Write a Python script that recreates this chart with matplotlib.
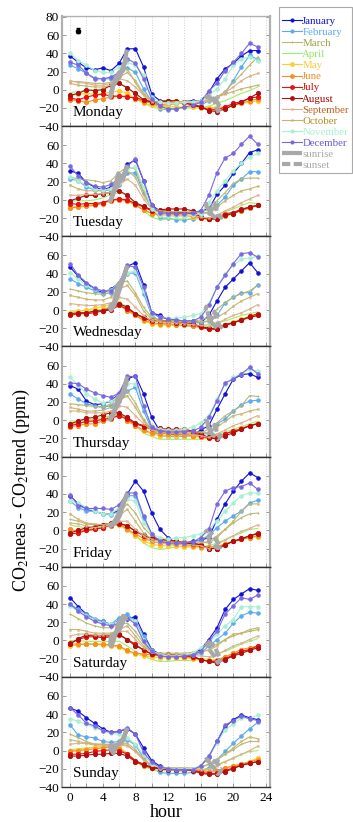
import numpy as np
import matplotlib
matplotlib.use('Agg')
import matplotlib.pyplot as plt

plt.rcParams['font.family'] = ['Liberation Serif', 'DejaVu Serif']
plt.rcParams['mathtext.fontset'] = 'stix'

hours = np.arange(24)
day_names = ['Monday', 'Tuesday', 'Wednesday', 'Thursday', 'Friday', 'Saturday', 'Sunday']
month_names = ['January', 'February', 'March', 'April', 'May', 'June', 'July',
               'August', 'September', 'October', 'November', 'December']
line_colors = ['#1010d8', '#5aaaf0', '#b8b870', '#9cf06a', '#ffcc33', '#f59020', '#e81010',
               '#b01010', '#dbb08a', '#c8b46a', '#a8f0d0', '#7a68e0']
text_colors = ['#1010d8', '#5aaaf0', '#a0a040', '#90e860', '#ffc830', '#f08a20', '#e00000',
               '#a00000', '#c06020', '#b09020', '#a8f0d0', '#6a5ad0']
markers = ['o', 'o', '+', '', 'o', 'o', 'o', 'o', 'x', 'x', 'o', 'o']
msizes = [2.5, 2.5, 1.5, 0, 3, 3, 3, 3, 1.5, 1.5, 2.5, 2.5]

# approximate sunrise / sunset hour for each month
sunrise_hour = [6.95, 6.5, 5.9, 5.3, 5.0, 4.9, 5.0, 5.3, 5.7, 6.1, 6.6, 7.0]
sunset_hour = [16.8, 17.3, 17.7, 18.1, 18.4, 18.5, 18.4, 18.1, 17.6, 17.1, 16.7, 16.6]

# rows: Jan..Dec, columns: hour 0..23
monday = [
    [37, 30, 24, 22, 24, 21, 29, 45, 45, 25, -5, -12, -13, -14, -13, -12, -12, -3, 12, 23, 29, 37, 43, 43],
    [27, 23, 18, 13, 12, 12, 18, 24, 19, 1, -13, -21, -22, -21, -19, -19, -17, -12, -8, -3, 10, 25, 38, 33],
    [9, 9, 8, 7, 7, 8, 19, 23, 8, -6, -14, -17, -17, -15, -14, -14, -13, -12, -8, -2, 8, 17, 27, 36],
    [-3, -2, -1, 0, 1, 4, 7, 3, -6, -14, -19, -21, -21, -20, -20, -20, -20, -18, -15, -12, -8, -4, -1, 3],
    [-6, -5, -4, -5, -4, -3, -1, -4, -10, -15, -17, -19, -18, -19, -19, -19, -20, -20, -19, -19, -17, -15, -14, -12],
    [-11, -12, -14, -11, -10, -8, -7, -7, -10, -13, -15, -17, -15, -15, -15, -17, -19, -21, -21, -20, -17, -15, -12, -10],
    [-9, -11, -8, -6, -5, -7, -7, -8, -9, -11, -13, -13, -12, -12, -14, -15, -19, -22, -22, -19, -15, -13, -9, -8],
    [-6, -4, 0, -1, 0, 5, 7, 2, -4, -11, -14, -14, -12, -13, -14, -17, -19, -23, -24, -21, -17, -14, -9, -4],
    [10, 8, 7, 5, 5, 7, 12, 10, 3, -6, -13, -14, -14, -14, -14, -14, -14, -12, -8, -3, 3, 10, 15, 18],
    [7, 5, 4, 3, 3, 5, 14, 19, 10, -4, -12, -14, -14, -13, -13, -13, -12, -11, -8, -5, -2, 1, 3, 5],
    [40, 32, 27, 21, 19, 19, 25, 30, 27, 16, -8, -14, -15, -15, -14, -13, -12, -6, 1, 12, 27, 34, 36, 32],
    [30, 27, 18, 12, 12, 14, 19, 34, 29, 12, -10, -18, -21, -21, -19, -17, -14, -1, 7, 21, 30, 40, 51, 47],
]
tuesday = [
    [32, 29, 19, 14, 11, 14, 19, 39, 44, 21, -6, -12, -14, -15, -15, -15, -12, -10, 6, 16, 29, 40, 52, 55],
    [23, 21, 14, 11, 10, 11, 16, 29, 30, 8, -10, -20, -20, -22, -22, -21, -15, -14, -6, 3, 16, 23, 31, 31],
    [25, 23, 22, 21, 19, 21, 30, 36, 34, 10, -8, -14, -15, -15, -15, -15, -14, -10, -1, 8, 18, 23, 24, 24],
    [-1, -1, -1, 0, 2, 6, 8, 5, -4, -12, -19, -22, -21, -21, -21, -21, -21, -20, -17, -13, -10, -6, -3, -4],
    [-8, -7, -6, -5, -3, 0, 1, 0, -5, -11, -15, -17, -17, -17, -18, -19, -20, -21, -20, -17, -14, -11, -8, -6],
    [-9, -8, -7, -6, -4, -1, 0, -1, -6, -11, -15, -16, -15, -16, -17, -18, -20, -21, -21, -18, -15, -12, -9, -6],
    [-4, -5, -4, -4, -3, 0, 1, 0, -4, -8, -12, -12, -12, -14, -14, -15, -20, -21, -20, -15, -14, -10, -8, -6],
    [-1, 2, 5, 5, 7, 8, 10, 5, -3, -7, -11, -11, -10, -10, -10, -12, -19, -21, -21, -17, -15, -11, -8, -6],
    [5, 5, 6, 6, 7, 8, 16, 23, 16, 1, -10, -14, -15, -15, -16, -17, -19, -20, -17, -12, -8, -3, 1, 5],
    [16, 12, 10, 10, 10, 13, 21, 32, 25, 5, -8, -12, -13, -13, -13, -13, -14, -14, -8, -1, 5, 10, 12, 15],
    [25, 21, 16, 12, 11, 12, 19, 34, 36, 14, -10, -17, -18, -18, -18, -17, -15, -3, 10, 21, 32, 40, 47, 51],
    [37, 26, 19, 15, 14, 17, 23, 37, 45, 21, -6, -14, -15, -15, -15, -14, -12, 5, 30, 46, 51, 61, 70, 61],
]
wednesday = [
    [47, 37, 29, 23, 19, 23, 30, 48, 52, 28, -3, -6, -10, -11, -12, -12, -14, -6, 10, 25, 34, 43, 52, 41],
    [34, 29, 25, 21, 18, 19, 29, 40, 41, 18, -6, -12, -13, -13, -14, -14, -14, -12, -6, 8, 14, 19, 19, 28],
    [23, 21, 19, 18, 17, 19, 29, 32, 19, 3, -8, -11, -12, -12, -12, -12, -11, -8, 1, 8, 14, 18, 21, 27],
    [-1, -1, 0, 0, 1, 4, 8, 4, -5, -12, -15, -16, -17, -17, -17, -17, -17, -16, -14, -12, -9, -6, -4, -2],
    [-3, -1, 0, 2, 4, 6, 8, 1, -6, -12, -15, -16, -16, -17, -17, -18, -19, -20, -19, -16, -13, -10, -7, -5],
    [-4, -4, -3, -2, 0, 3, 6, -1, -6, -11, -14, -15, -15, -16, -17, -18, -19, -21, -21, -17, -14, -11, -8, -6],
    [-6, -4, -4, -3, -1, 0, 5, 1, -4, -9, -12, -12, -12, -13, -14, -15, -19, -21, -21, -17, -14, -11, -7, -4],
    [-4, -3, -3, -1, -1, 2, 7, 3, -4, -8, -11, -12, -12, -14, -15, -15, -18, -20, -21, -16, -14, -11, -8, -6],
    [7, 6, 5, 5, 6, 8, 14, 12, 3, -6, -12, -13, -14, -14, -15, -16, -17, -18, -15, -10, -6, -3, 1, 6],
    [16, 14, 12, 11, 11, 14, 23, 27, 16, -1, -10, -12, -12, -13, -13, -13, -13, -12, -8, -3, 4, 10, 14, 18],
    [41, 34, 27, 23, 21, 22, 30, 41, 43, 21, -4, -8, -9, -9, -8, -6, -4, 7, 25, 40, 49, 56, 57, 59],
    [51, 38, 30, 24, 21, 21, 29, 49, 47, 25, -3, -8, -10, -11, -12, -12, -8, 5, 25, 38, 51, 62, 63, 58],
]
thursday = [
    [38, 34, 21, 17, 18, 21, 29, 45, 49, 29, 3, -12, -15, -16, -15, -16, -11, -6, 12, 29, 45, 50, 51, 47],
    [29, 23, 18, 16, 14, 16, 21, 32, 36, 10, -10, -17, -18, -18, -18, -17, -15, -15, -4, 1, 10, 17, 21, 22],
    [18, 17, 16, 15, 14, 18, 27, 32, 19, 1, -10, -14, -15, -15, -15, -14, -14, -10, -3, 5, 10, 16, 27, 26],
    [-1, -1, 0, 1, 3, 5, 7, 3, -6, -14, -18, -21, -21, -21, -21, -21, -21, -20, -16, -13, -10, -7, -4, -1],
    [-4, -3, -2, -1, 1, 4, 8, 1, -6, -12, -15, -17, -17, -17, -17, -18, -19, -20, -19, -15, -12, -9, -6, -3],
    [-7, -6, -4, -4, -1, 1, 7, -1, -6, -11, -14, -15, -15, -15, -16, -17, -18, -19, -19, -15, -12, -9, -6, -4],
    [-6, -4, -1, -1, 1, 2, 5, 1, -4, -7, -10, -11, -11, -12, -12, -13, -17, -20, -20, -15, -12, -10, -6, -4],
    [-4, -1, 2, 3, 6, 8, 8, 3, -3, -6, -8, -9, -10, -10, -10, -12, -15, -19, -21, -17, -14, -10, -6, -4],
    [10, 10, 8, 8, 8, 10, 16, 14, 5, -4, -11, -13, -14, -14, -15, -16, -17, -19, -15, -11, -6, -3, 1, 5],
    [14, 12, 10, 10, 11, 14, 21, 27, 14, -1, -10, -13, -13, -13, -13, -13, -13, -14, -8, -1, 5, 7, 10, 12],
    [47, 38, 29, 23, 19, 21, 27, 40, 40, 16, -6, -10, -11, -11, -10, -8, -3, 5, 23, 40, 47, 51, 56, 54],
    [41, 40, 34, 30, 27, 25, 30, 48, 48, 16, -8, -12, -13, -13, -13, -12, -8, 3, 21, 41, 45, 51, 58, 51],
]
friday = [
    [38, 29, 23, 21, 18, 18, 22, 40, 54, 43, 19, 1, -8, -14, -14, -12, -11, -8, 12, 29, 43, 54, 63, 58],
    [32, 25, 21, 21, 18, 17, 21, 38, 38, 14, -4, -14, -15, -15, -15, -14, -10, -6, 3, 10, 16, 21, 30, 33],
    [12, 10, 7, 6, 6, 8, 19, 29, 19, 3, -6, -12, -14, -15, -16, -15, -14, -12, -6, 1, 8, 14, 18, 19],
    [6, 4, 3, 2, 4, 6, 7, 2, -6, -14, -19, -21, -20, -18, -18, -18, -18, -17, -14, -10, -6, -3, 1, 2],
    [-1, 0, 1, 2, 3, 5, 6, 0, -6, -12, -15, -17, -17, -17, -18, -18, -19, -19, -18, -15, -12, -10, -8, -7],
    [1, -1, 0, 1, 3, 5, 7, 1, -4, -9, -12, -14, -14, -15, -16, -17, -18, -18, -18, -15, -12, -10, -8, -6],
    [-4, -3, 0, 1, 3, 6, 7, 5, -1, -6, -9, -10, -11, -12, -13, -14, -16, -20, -20, -16, -12, -10, -6, -3],
    [-3, 0, 3, 4, 6, 8, 8, 5, -1, -5, -9, -10, -11, -12, -14, -15, -16, -20, -20, -16, -12, -9, -6, -4],
    [8, 7, 5, 3, 4, 6, 10, 10, 1, -6, -12, -14, -15, -15, -16, -16, -17, -20, -15, -11, -6, -1, 2, 6],
    [18, 12, 8, 7, 6, 8, 16, 23, 10, -3, -10, -12, -13, -13, -13, -13, -13, -14, -8, 1, 10, 21, 29, 29],
    [32, 30, 25, 21, 18, 18, 25, 34, 32, 8, -4, -8, -10, -8, -8, -6, -4, 1, 10, 21, 30, 38, 41, 41],
    [39, 27, 24, 24, 24, 23, 28, 41, 41, 16, -4, -12, -14, -14, -14, -13, -8, 1, 29, 43, 47, 48, 52, 45],
]
saturday = [
    [47, 37, 29, 23, 21, 17, 22, 24, 26, 7, -10, -15, -16, -17, -16, -15, -10, 1, 14, 34, 45, 51, 57, 55],
    [40, 34, 29, 24, 21, 18, 25, 29, 21, 5, -11, -17, -18, -18, -18, -17, -14, -6, 1, 8, 19, 27, 31, 30],
    [29, 24, 19, 16, 14, 14, 18, 19, 10, -3, -12, -15, -16, -16, -16, -15, -13, -10, -4, 1, 5, 8, 10, 12],
    [0, 0, -1, -1, -1, -1, -1, -6, -12, -17, -21, -23, -23, -22, -22, -22, -21, -20, -15, -12, -8, -4, -1, 2],
    [-6, -5, -4, -4, -5, -6, -7, -12, -15, -17, -18, -19, -19, -19, -19, -20, -21, -22, -21, -18, -15, -12, -10, -8],
    [-4, -4, -4, -4, -4, -5, -6, -11, -14, -15, -16, -17, -17, -17, -18, -19, -21, -23, -22, -18, -14, -10, -8, -6],
    [-3, 1, 4, 4, 3, 4, 6, 1, -4, -11, -15, -16, -16, -17, -17, -18, -21, -23, -23, -20, -16, -12, -10, -6],
    [-4, 2, 6, 5, 5, 5, 7, 1, -6, -10, -15, -16, -15, -16, -16, -17, -21, -23, -25, -21, -17, -14, -11, -8],
    [5, 7, 7, 6, 6, 7, 10, 10, 1, -8, -13, -15, -16, -16, -16, -17, -17, -18, -15, -11, -6, -3, 1, 5],
    [12, 12, 10, 8, 8, 8, 12, 16, 5, -6, -12, -14, -14, -14, -14, -13, -12, -11, -6, 1, 7, 8, 12, 14],
    [38, 32, 27, 23, 19, 18, 21, 25, 21, 1, -12, -16, -17, -17, -16, -14, -8, -3, 7, 16, 23, 37, 37, 37],
    [40, 32, 26, 21, 18, 16, 19, 25, 18, -1, -12, -17, -18, -18, -17, -16, -12, -1, 10, 29, 38, 47, 45, 50],
]
sunday = [
    [47, 43, 36, 30, 24, 20, 21, 24, 18, 3, -11, -17, -20, -22, -22, -21, -17, -7, 10, 26, 34, 39, 36, 34],
    [28, 17, 15, 14, 10, 9, 10, 12, 6, -8, -19, -24, -25, -25, -25, -24, -22, -19, -10, -1, 8, 16, 24, 31],
    [18, 14, 10, 7, 7, 6, 7, 6, -1, -10, -17, -19, -20, -20, -20, -20, -19, -15, -10, -4, 1, 7, 10, 10],
    [1, 2, 3, 4, 4, 5, 4, -3, -11, -17, -21, -22, -22, -22, -22, -22, -21, -20, -15, -12, -9, -4, -1, 0],
    [-1, 1, 2, 4, 5, 6, 4, -4, -12, -17, -19, -20, -20, -20, -21, -21, -22, -23, -22, -19, -17, -15, -12, -8],
    [-1, 0, 1, 2, 3, 4, 2, -4, -11, -17, -19, -20, -20, -21, -21, -22, -22, -23, -22, -19, -17, -15, -12, -10],
    [-4, -4, -3, -1, 0, 1, 0, -4, -11, -15, -18, -19, -20, -20, -20, -21, -24, -25, -25, -22, -19, -16, -14, -12],
    [-6, -6, -5, -4, -4, -3, -3, -6, -12, -16, -19, -20, -21, -21, -21, -22, -25, -26, -26, -23, -20, -16, -14, -12],
    [7, 8, 8, 6, 6, 5, 6, 5, -1, -10, -16, -18, -19, -19, -19, -20, -21, -21, -17, -12, -8, -4, 0, 5],
    [12, 10, 8, 7, 7, 7, 8, 8, 1, -9, -16, -18, -19, -19, -19, -19, -18, -15, -10, -4, 3, 10, 15, 13],
    [35, 32, 29, 25, 22, 19, 18, 14, 7, -5, -15, -19, -20, -20, -20, -20, -17, -6, 8, 23, 29, 36, 35, 39],
    [47, 39, 30, 27, 22, 20, 21, 25, 18, -2, -13, -18, -20, -21, -21, -21, -17, -6, 10, 28, 33, 38, 35, 33],
]
week = [monday, tuesday, wednesday, thursday, friday, saturday, sunday]

W, H = 353, 822
fig = plt.figure(figsize=(W / 100, H / 100), dpi=100)
left, right = 62 / W, 270 / W
top, bottom = 1 - 16 / H, 1 - 787 / H
ph = (top - bottom) / 7

sun_gray = '#a8a8a8'
handles = []
for i, (name, data) in enumerate(zip(day_names, week)):
    ax = fig.add_axes([left, top - (i + 1) * ph, right - left, ph])
    for m in range(12):
        ln, = ax.plot(hours, data[m], color=line_colors[m], lw=0.8,
                      marker=markers[m] if markers[m] else None,
                      ms=msizes[m], mew=0.7, zorder=2 + m * 0.01)
        if i == 0:
            handles.append(ln)
    # sunrise / sunset positions on each month's curve
    sr_y = [np.interp(sunrise_hour[m], hours, data[m]) for m in range(12)]
    ss_y = [np.interp(sunset_hour[m], hours, data[m]) for m in range(12)]
    l_sr, = ax.plot(sunrise_hour, sr_y, color=sun_gray, lw=3, solid_capstyle='butt', zorder=5)
    l_ss, = ax.plot(sunset_hour, ss_y, color=sun_gray, lw=3, ls=(0, (2, 0.8)), zorder=5)
    if i == 0:
        handles += [l_sr, l_ss]
        ax.errorbar(1, 65, yerr=3, fmt='o', color='k', ms=3, capsize=1.5, lw=0.8)

    ax.text(0.3, -29, name, fontsize=11, va='baseline')
    ax.set_xlim(-1, 24.5)
    ax.set_ylim(-40, 81)
    ax.set_xticks(np.arange(0, 25, 2))
    if i == 6:
        ax.set_xticklabels([str(v) if v % 4 == 0 else '' for v in range(0, 25, 2)], fontsize=9.5)
        ax.set_xlabel('hour', fontsize=13, labelpad=0)
    else:
        ax.set_xticklabels([])
    if i == 0:
        ax.set_yticks(np.arange(-40, 81, 20))
    else:
        ax.set_yticks(np.arange(-40, 61, 20))
    ax.tick_params(axis='y', labelsize=9.5, pad=2)
    ax.tick_params(direction='in', length=3, width=0.6, color='#888888', top=False, right=True)
    ax.grid(axis='x', ls=':', color='#d0d0d0', lw=0.7)
    for s in ['left', 'right']:
        ax.spines[s].set_color('#b0b0b0')
        ax.spines[s].set_linewidth(1.6)
    for s in ['top', 'bottom']:
        ax.spines[s].set_color('#303030')
        ax.spines[s].set_linewidth(1.0)
    if i == 0:
        ax.spines['top'].set_color('#b0b0b0')

fig.text(0.062, 0.403, 'CO$_2$meas - CO$_2$trend (ppm)', rotation=90,
         ha='center', va='center', fontsize=13)

leg = fig.legend(handles, month_names + ['sunrise', 'sunset'], loc='upper left',
                 bbox_to_anchor=(279 / W, 1 - 7 / H), fontsize=7.8, labelspacing=0.14,
                 handlelength=1.9, handletextpad=0.0, borderpad=0.25, borderaxespad=0,
                 numpoints=1, fancybox=False, edgecolor='#aaaaaa', framealpha=1,
                 markerscale=0.9, title=' ', title_fontsize=5)
leg.get_frame().set_linewidth(0.8)
for t, c in zip(leg.get_texts(), text_colors + ['#aaaaaa', '#aaaaaa']):
    t.set_color(c)

fig.savefig('out.png', dpi=100)
